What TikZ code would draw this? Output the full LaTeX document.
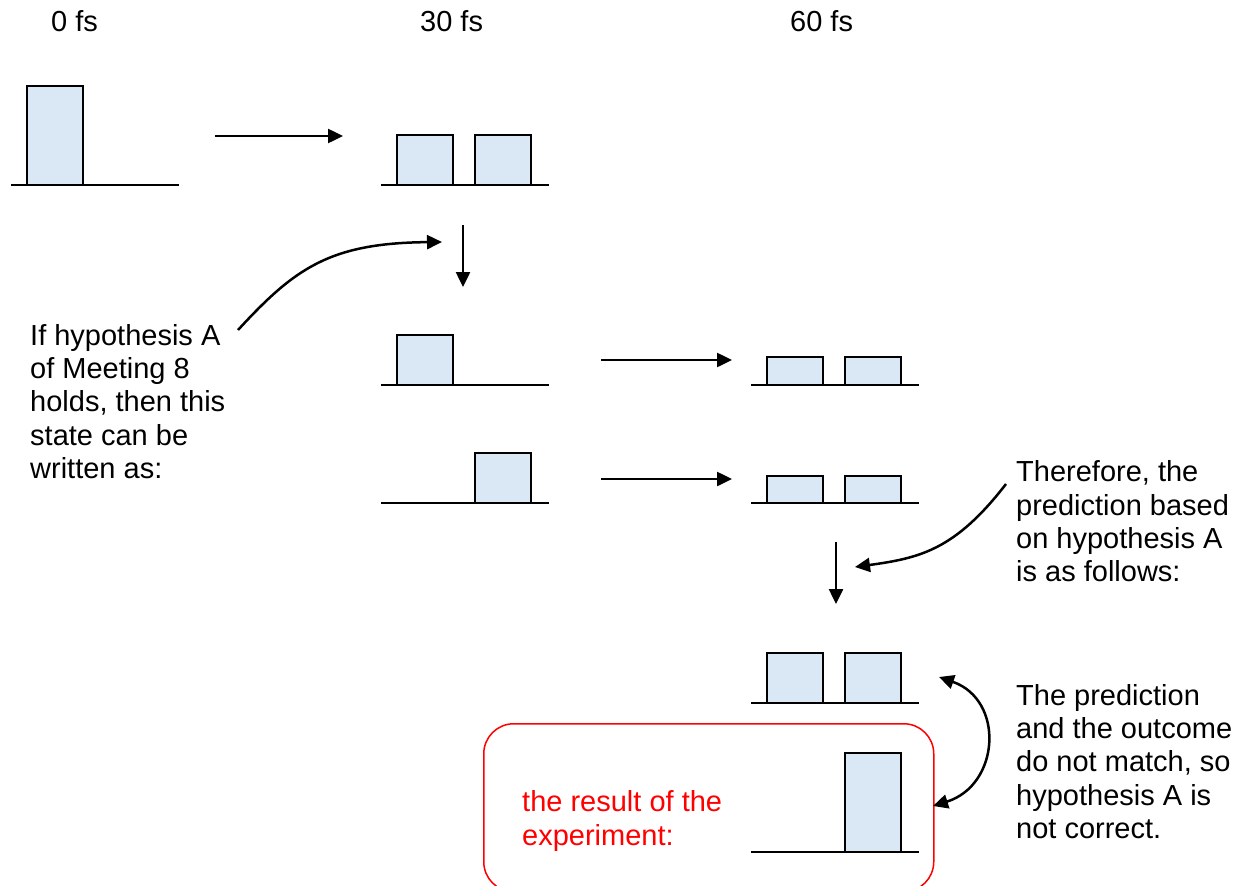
\documentclass[tikz,border=0pt]{standalone}
\usepackage{fontspec}
\setmainfont{Liberation Sans}
\usetikzlibrary{arrows.meta}
\definecolor{boxfill}{RGB}{218,232,246}
\definecolor{resultred}{RGB}{255,0,0}

\begin{document}
\begin{tikzpicture}[x=1pt,y=-1pt,
  pulse/.style={draw=black, line width=2.3pt, fill=boxfill, anchor=south west,
    inner sep=0pt, outer sep=0pt},
  wide/.style={minimum width=56pt},
  ground/.style={line width=1.6pt},
  flow/.style={line width=2.5pt, -{Triangle[length=15pt,width=14pt]}},
  twoway/.style={line width=2.5pt, {Triangle[length=15pt,width=14pt]}-{Triangle[length=15pt,width=14pt]}},
  txt/.style={font=\fontsize{29}{33.4}\selectfont, align=left, anchor=base west, inner sep=0pt}
]
\useasboundingbox (0,0) rectangle (1240,886);

% time labels
\node[txt] (t0) at (51,31) {0 fs};
\node[txt] (t30) at (420,31) {30 fs};
\node[txt] (t60) at (790,31) {60 fs};

% 0 fs: a single tall pulse
\draw[ground] (11,185) -- (179,185);
\node[pulse, wide, minimum height=99pt] (a1) at (27,185) {};

% 30 fs: split into two halves
\draw[ground] (381,185) -- (549,185);
\node[pulse, wide, minimum height=50pt] (b1) at (397,185) {};
\node[pulse, wide, minimum height=50pt] (b2) at (475,185) {};

% decomposition into left and right parts
\draw[ground] (381,385) -- (549,385);
\node[pulse, wide, minimum height=50pt] (c1) at (397,385) {};
\draw[ground] (381,503) -- (549,503);
\node[pulse, wide, minimum height=50pt] (d1) at (475,503) {};

% 60 fs: each part spreads
\draw[ground] (751,385) -- (919,385);
\node[pulse, wide, minimum height=28pt] (e1) at (767,385) {};
\node[pulse, wide, minimum height=28pt] (e2) at (845,385) {};
\draw[ground] (751,503) -- (919,503);
\node[pulse, wide, minimum height=27pt] (f1) at (767,503) {};
\node[pulse, wide, minimum height=27pt] (f2) at (845,503) {};

% predicted sum
\draw[ground] (751,703) -- (919,703);
\node[pulse, wide, minimum height=50pt] (g1) at (767,703) {};
\node[pulse, wide, minimum height=50pt] (g2) at (845,703) {};

% measured result
\node[draw=resultred, line width=1.5pt, rounded corners=30pt, anchor=north west,
  minimum width=450pt, minimum height=168pt, inner sep=0pt] (res) at (483,723) {};
\draw[ground] (751,852) -- (919,852);
\node[pulse, wide, minimum height=99pt] (h1) at (845,852) {};
% multi-line nodes sit on the baseline of their last line
\node[txt, text=resultred] (restxt) at (522,845) {the result of the\\experiment:};

% straight arrows
\coordinate (s1) at (215,136); \coordinate (e1a) at (343,136);
\draw[flow] (s1) -- (e1a);
\coordinate (s2) at (463,225); \coordinate (e2a) at (463,287);
\draw[flow] (s2) -- (e2a);
\coordinate (s3) at (601,360); \coordinate (e3a) at (732,360);
\draw[flow] (s3) -- (e3a);
\coordinate (s4) at (601,479); \coordinate (e4a) at (732,479);
\draw[flow] (s4) -- (e4a);
\coordinate (s5) at (836,542); \coordinate (e5a) at (836,604);
\draw[flow] (s5) -- (e5a);

% annotations
\node[txt] (hypA) at (30,478.6) {If hypothesis A\\of Meeting 8\\holds, then this\\state can be\\written as:};
\coordinate (c1s) at (238,330); \coordinate (c1e) at (442,242);
\draw[flow] (c1s) .. controls (295,268) and (330,243) .. (c1e);

\node[txt] (pred) at (1016,581.9) {Therefore, the\\prediction based\\on hypothesis A\\is as follows:};
\coordinate (c2s) at (1006,484); \coordinate (c2e) at (855,567);
\draw[flow] (c2s) .. controls (955,550) and (920,558) .. (c2e);

\node[txt] (concl) at (1016,838.6) {The prediction\\and the outcome\\do not match, so\\hypothesis A is\\not correct.};
\coordinate (c3s) at (939,677); \coordinate (c3e) at (933,806);
\draw[twoway] (c3s) .. controls (1005,700) and (1000,785) .. (c3e);
\end{tikzpicture}
\end{document}
